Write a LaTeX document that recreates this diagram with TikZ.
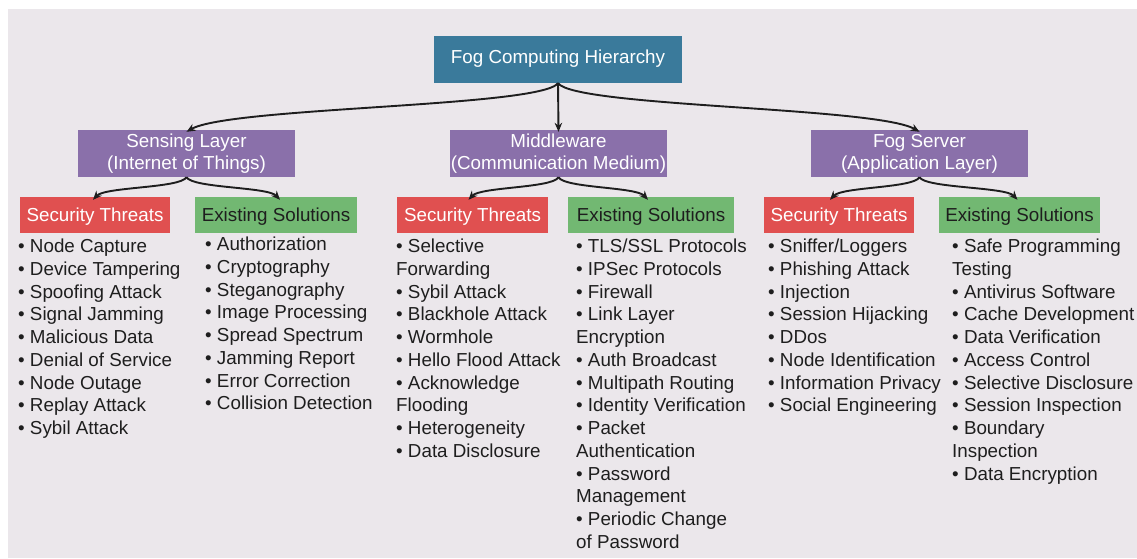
\documentclass[tikz,border=0pt]{standalone}
\usepackage{fontspec}
\setmainfont{Liberation Sans}
\usetikzlibrary{arrows.meta}
\definecolor{bgc}{RGB}{235,231,235}
\definecolor{rootc}{RGB}{58,122,155}
\definecolor{layc}{RGB}{138,112,170}
\definecolor{thrc}{RGB}{224,80,80}
\definecolor{solc}{RGB}{114,184,114}
\definecolor{txt}{RGB}{30,30,30}
\tikzset{
  box/.style={inner sep=0pt, align=center, font=\fontsize{18.8}{22}\selectfont},
  rootbox/.style={box, fill=rootc, text=white, minimum width=248pt, minimum height=47pt, text height=13.4pt, text depth=5.8pt},
  laybox/.style={box, fill=layc, text=white, minimum width=217pt, minimum height=47pt},
  thrbox/.style={box, fill=thrc, text=white, minimum height=36pt, text height=13.4pt, text depth=0pt},
  solbox/.style={box, fill=solc, text=txt, minimum height=36pt, text height=13.4pt, text depth=0pt},
  item/.style={inner sep=0pt, anchor=base west, text=txt, font=\fontsize{18.8}{22.75}\selectfont},
  conn/.style={draw=txt, line width=1.9pt, -{Stealth[length=9pt,width=7.5pt]}}
}
\newcommand{\mylist}[4]{%
  \foreach \t [count=\i from 0] in {#4} {
    \node[item] (#1-\i) at (#2, #3+\i*22.75) {\t};
  }%
}
\begin{document}
\begin{tikzpicture}[x=1pt,y=-1pt]
\useasboundingbox (0,0) rectangle (1137,559);
\fill[bgc] (8,9) rectangle (1137,558);

\node[rootbox] (root) at (558,59.5) {Fog Computing Hierarchy};
\node[laybox] (sens) at (186.5,153.5) {Sensing Layer\\(Internet of Things)};
\node[laybox] (mid) at (558.5,153.5) {Middleware\\(Communication Medium)};
\node[laybox] (fog) at (919.5,153.5) {Fog Server\\(Application Layer)};

\node[thrbox, minimum width=150pt] (st1) at (95,215) {Security Threats};
\node[solbox, minimum width=162pt] (so1) at (276,215) {Existing Solutions};
\node[thrbox, minimum width=151pt] (st2) at (472.5,215) {Security Threats};
\node[solbox, minimum width=166pt] (so2) at (651,215) {Existing Solutions};
\node[thrbox, minimum width=150pt] (st3) at (839,215) {Security Threats};
\node[solbox, minimum width=161pt] (so3) at (1019.5,215) {Existing Solutions};

\draw[conn] (root.south) .. controls +(-18,24) and +(43.5,-25) .. ([yshift=-2pt]sens.north);
\draw[conn] (root.south) -- ([yshift=-2pt]mid.north);
\draw[conn] (root.south) .. controls +(18,24) and +(-43.5,-25) .. ([yshift=-2pt]fog.north);

\draw[conn] (sens.south) .. controls +(-6,11) and +(12,-13) .. ([xshift=-2pt,yshift=-3pt]st1.north);
\draw[conn] (sens.south) .. controls +(6,11) and +(-12,-13) .. ([xshift=4pt,yshift=-3pt]so1.north);
\draw[conn] (mid.south) .. controls +(-6,11) and +(12,-13) .. ([xshift=-4pt,yshift=-3pt]st2.north);
\draw[conn] (mid.south) .. controls +(6,11) and +(-12,-13) .. ([xshift=-3pt,yshift=-3pt]so2.north);
\draw[conn] (fog.south) .. controls +(-6,11) and +(12,-13) .. ([xshift=-9pt,yshift=-3pt]st3.north);
\draw[conn] (fog.south) .. controls +(6,11) and +(-12,-13) .. ([xshift=-2pt,yshift=-3pt]so3.north);

\mylist{l1}{18}{252.7}{{• Node Capture},{• Device Tampering},{• Spoofing Attack},{• Signal Jamming},{• Malicious Data},{• Denial of Service},{• Node Outage},{• Replay Attack},{• Sybil Attack}}
\mylist{l2}{205}{250.7}{{• Authorization},{• Cryptography},{• Steganography},{• Image Processing},{• Spread Spectrum},{• Jamming Report},{• Error Correction},{• Collision Detection}}
\mylist{l3}{396}{252.7}{{• Selective},{Forwarding},{• Sybil Attack},{• Blackhole Attack},{• Wormhole},{• Hello Flood Attack},{• Acknowledge},{Flooding},{• Heterogeneity},{• Data Disclosure}}
\mylist{l4}{576}{252.7}{{• TLS/SSL Protocols},{• IPSec Protocols},{• Firewall},{• Link Layer},{Encryption},{• Auth Broadcast},{• Multipath Routing},{• Identity Verification},{• Packet},{Authentication},{• Password},{Management},{• Periodic Change},{of Password}}
\mylist{l5}{768}{252.7}{{• Sniffer/Loggers},{• Phishing Attack},{• Injection},{• Session Hijacking},{• DDos},{• Node Identification},{• Information Privacy},{• Social Engineering}}
\mylist{l6}{952}{252.7}{{• Safe Programming},{Testing},{• Antivirus Software},{• Cache Development},{• Data Verification},{• Access Control},{• Selective Disclosure},{• Session Inspection},{• Boundary},{Inspection},{• Data Encryption}}
\end{tikzpicture}
\end{document}
